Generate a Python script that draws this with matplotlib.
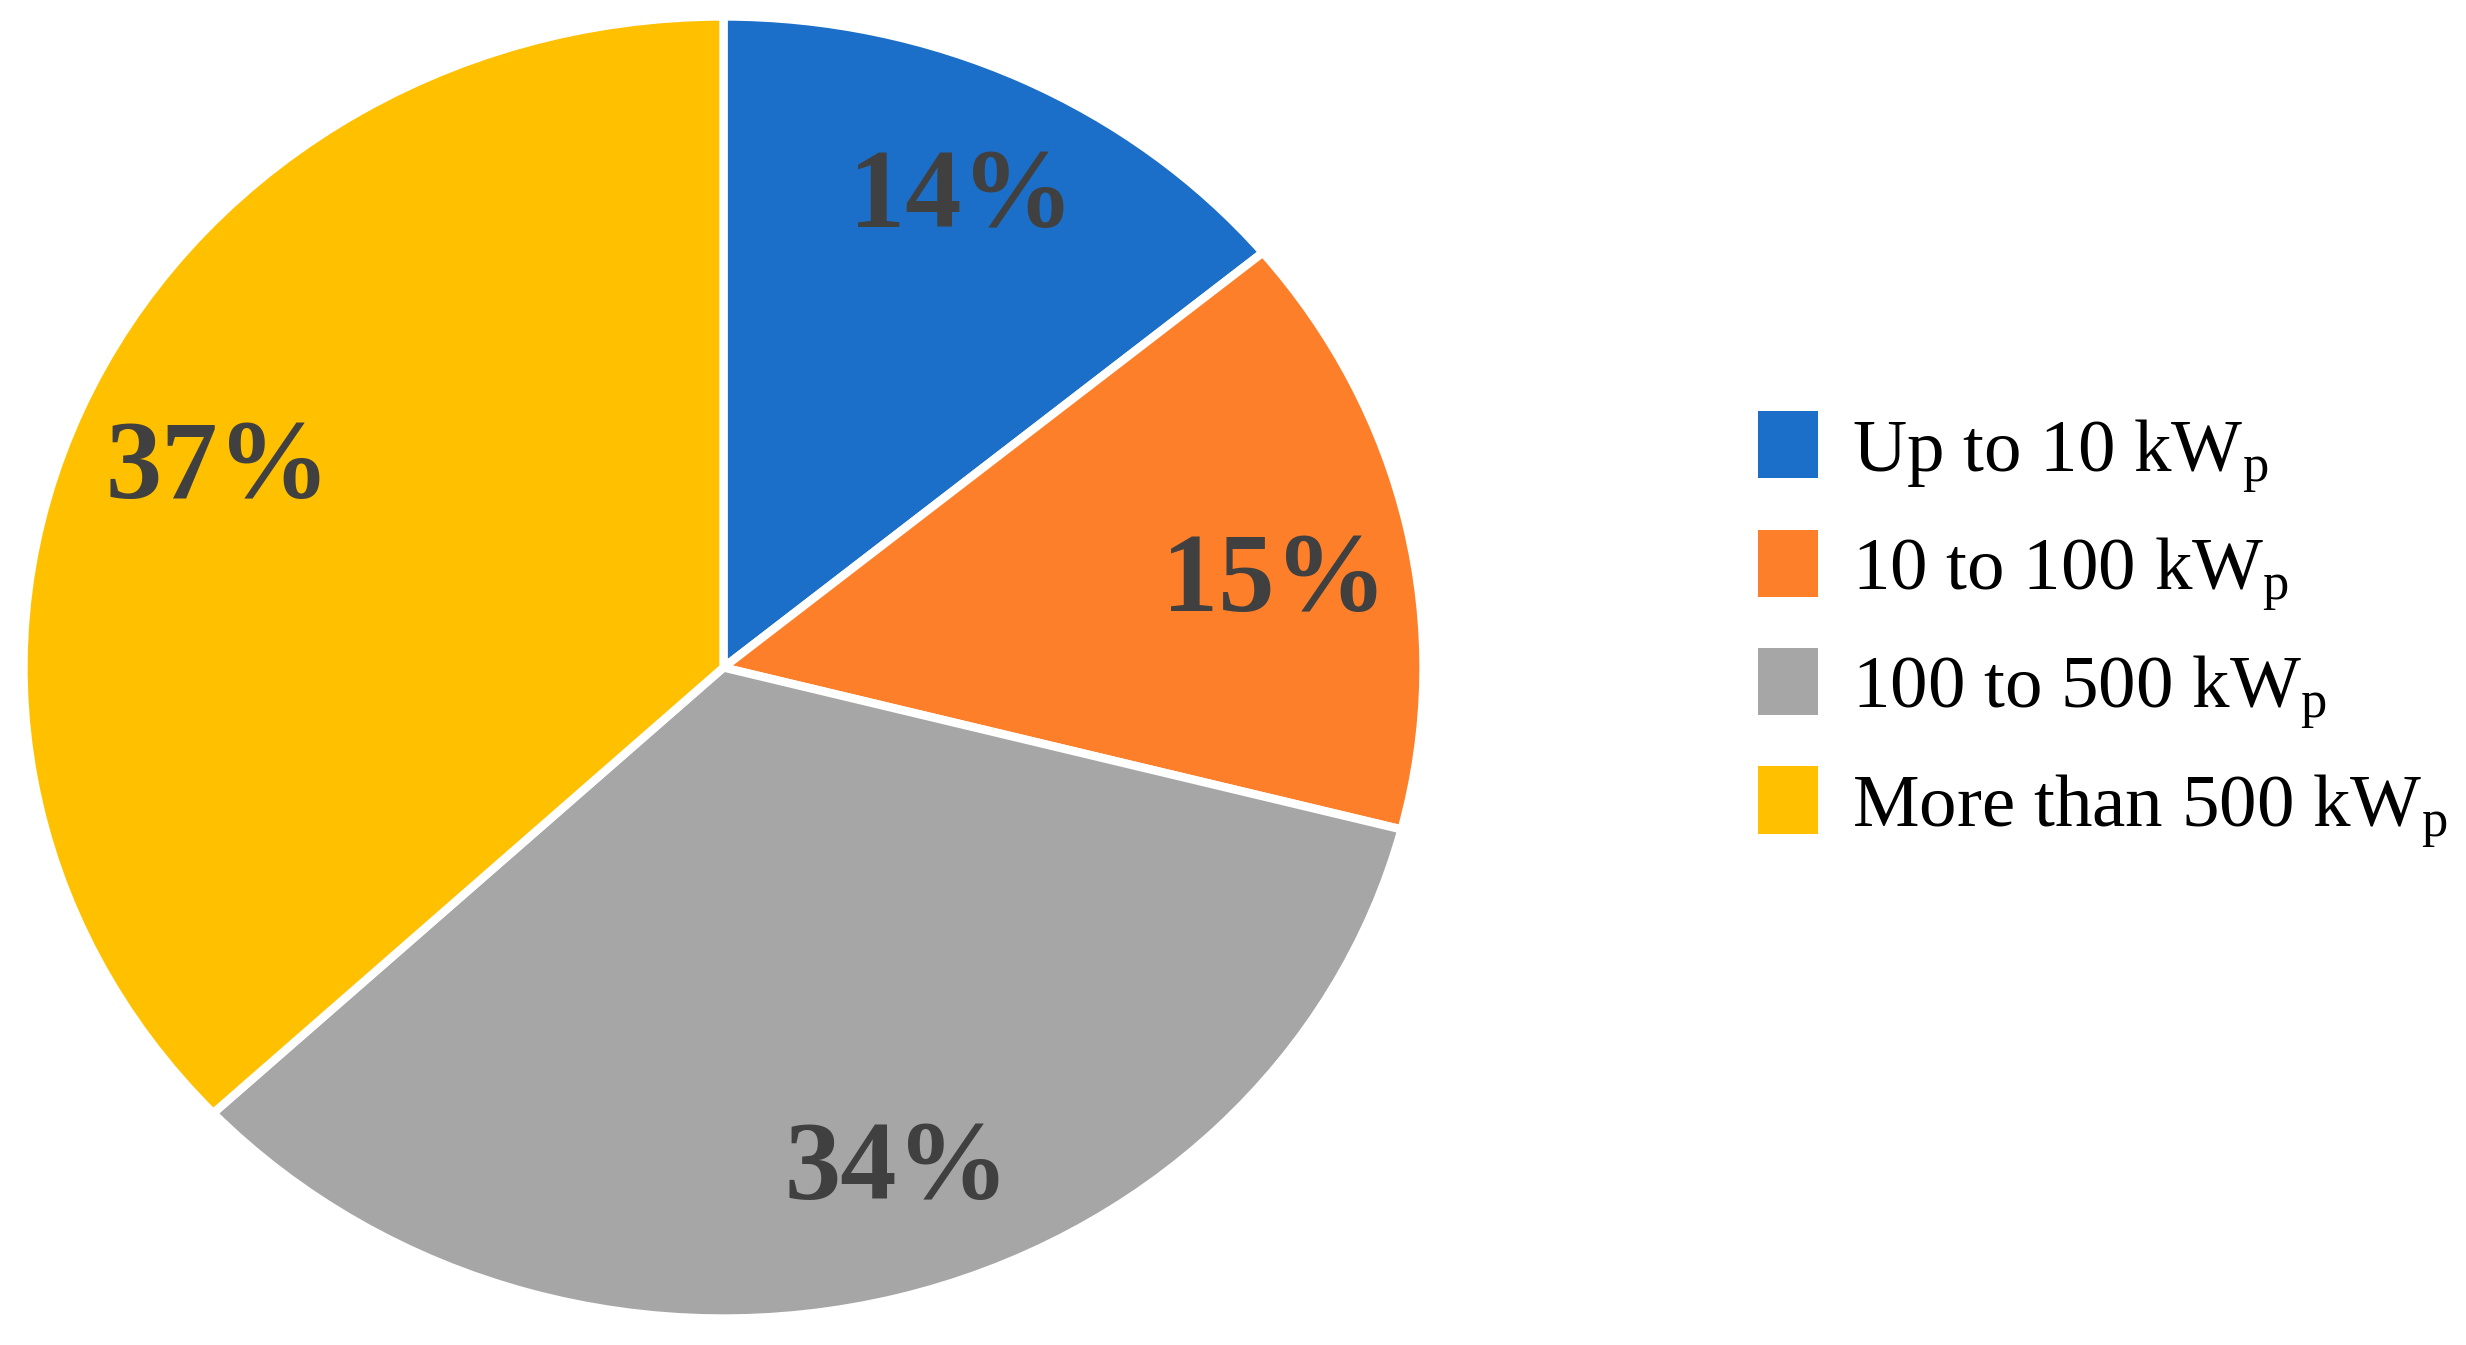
import matplotlib
matplotlib.use("Agg")
import matplotlib.pyplot as plt
from matplotlib.transforms import offset_copy

categories = ["Up to 10 kW$_\\mathrm{p}$", "10 to 100 kW$_\\mathrm{p}$",
              "100 to 500 kW$_\\mathrm{p}$", "More than 500 kW$_\\mathrm{p}$"]
shares = [14, 15, 34, 37]
colors = ["#1C6FC8", "#FD7F2A", "#A6A6A6", "#FFC000"]
# small nudges of the percentage labels (pixels)
label_nudges = [(0, -4), (4, -30), (34, 0), (8, -10)]

plt.rcParams["font.family"] = ["Liberation Serif", "DejaVu Serif"]
plt.rcParams["mathtext.fontset"] = "custom"
plt.rcParams["mathtext.rm"] = "Liberation Serif"
plt.rcParams["mathtext.it"] = "Liberation Serif:italic"
plt.rcParams["mathtext.bf"] = "Liberation Serif:bold"

W, H = 2466, 1345
fig = plt.figure(figsize=(W / 100, H / 100), dpi=100)
cx, cy, rx, ry = 723.5, 667.5, 700, 651
ax = fig.add_axes([(cx - rx) / W, (H - cy - ry) / H, 2 * rx / W, 2 * ry / H])

wedges, texts, autotexts = ax.pie(
    shares, colors=colors, startangle=90, counterclock=False,
    autopct=lambda p: f"{p:.0f}%", pctdistance=0.8,
    wedgeprops=dict(edgecolor="white", linewidth=6),
    textprops=dict(fontsize=81, fontweight="bold", color="#404040"))
ax.set_aspect("auto")
ax.set_xlim(-1.0, 1.0)
ax.set_ylim(-1.0, 1.0)
for t, (dx, dy) in zip(autotexts, label_nudges):
    t.set_transform(offset_copy(t.get_transform(), fig=fig, x=dx, y=dy, units="dots"))

leg = fig.legend(wedges, categories, loc="center left",
                 bbox_to_anchor=(1758 / W, 1 - 630 / H),
                 frameon=False, fontsize=54, borderpad=0, borderaxespad=0,
                 handlelength=0.8, handleheight=1.0, handletextpad=0.45,
                 labelspacing=0.48)
for h in leg.legend_handles:
    h.set_edgecolor("none")

fig.savefig("out.png", dpi=100, facecolor="white")
